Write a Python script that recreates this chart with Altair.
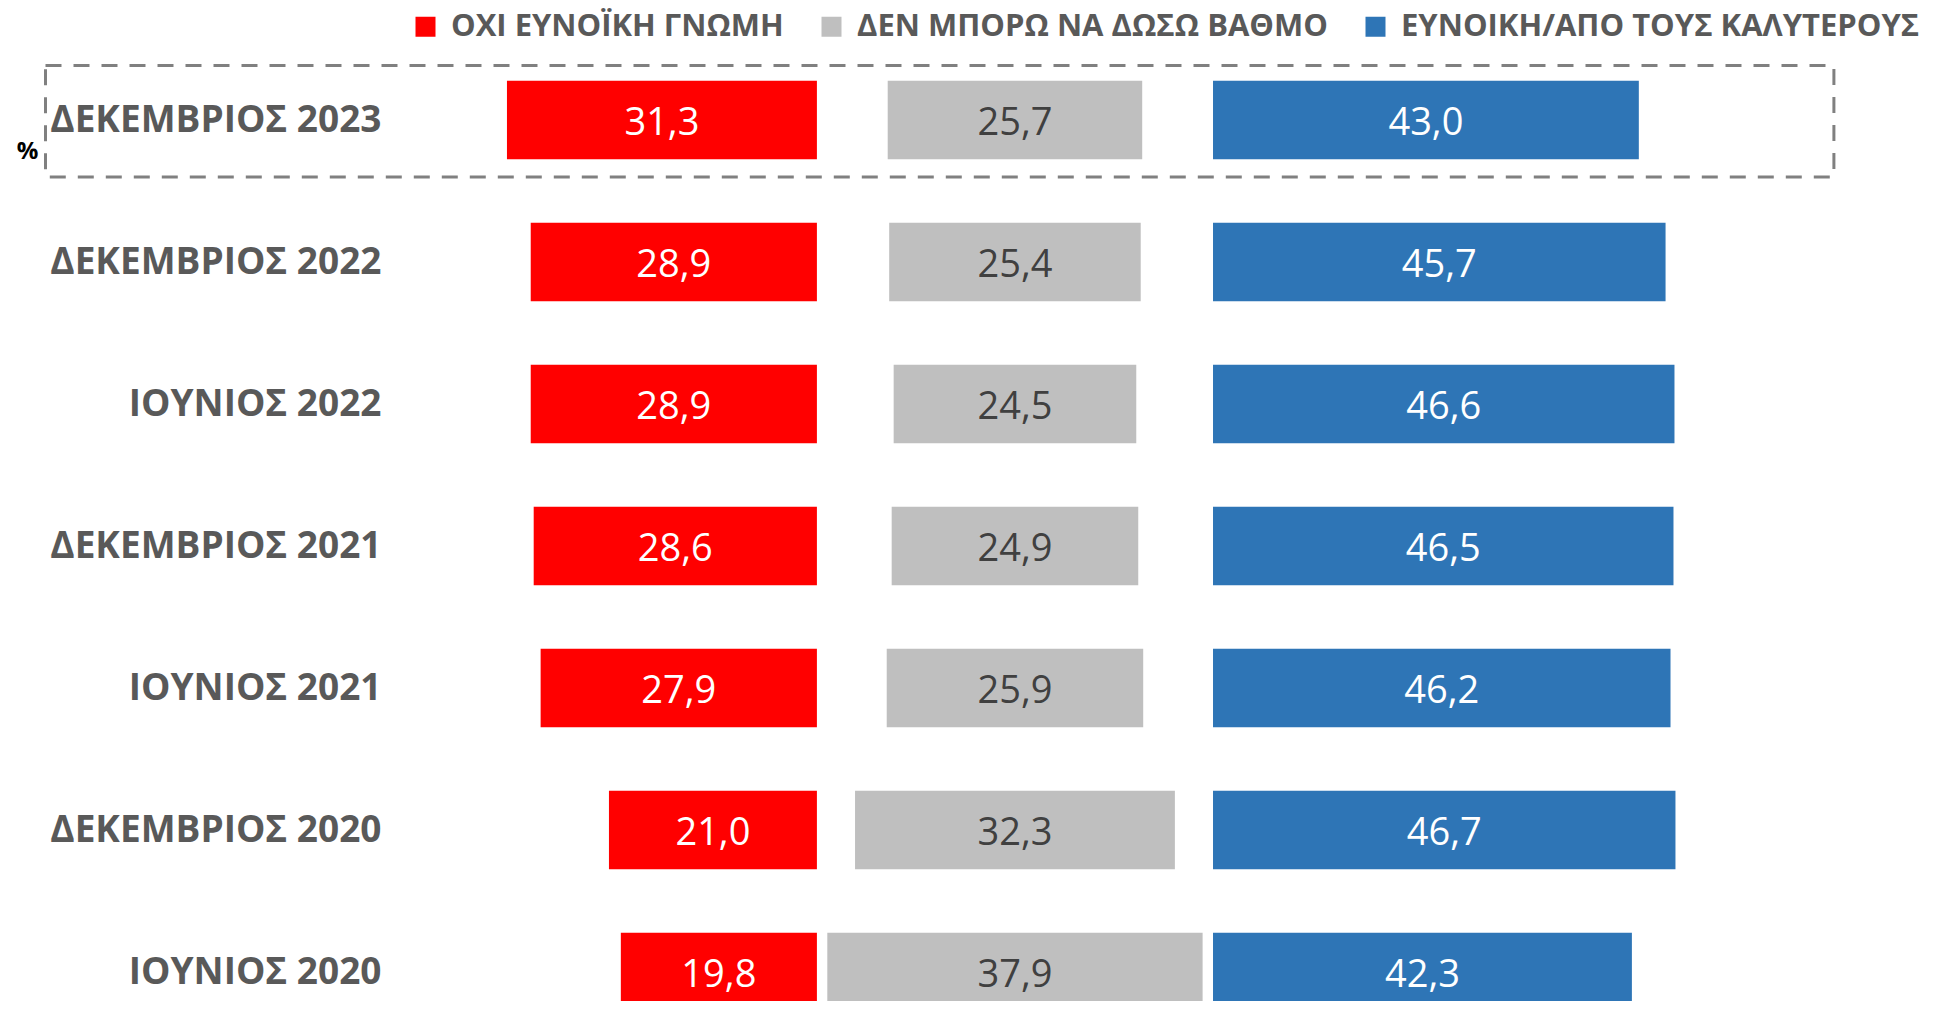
import json
import altair as alt
import pandas as pd

# ---- data ----
periods = ["ΔΕΚΕΜΒΡΙΟΣ 2023", "ΔΕΚΕΜΒΡΙΟΣ 2022", "ΙΟΥΝΙΟΣ 2022", "ΔΕΚΕΜΒΡΙΟΣ 2021",
           "ΙΟΥΝΙΟΣ 2021", "ΔΕΚΕΜΒΡΙΟΣ 2020", "ΙΟΥΝΙΟΣ 2020"]
unfavourable = [31.3, 28.9, 28.9, 28.6, 27.9, 21.0, 19.8]
cannot_rate = [25.7, 25.4, 24.5, 24.9, 25.9, 32.3, 37.9]
favourable = [43.0, 45.7, 46.6, 46.5, 46.2, 46.7, 42.3]
series = ["ΟΧΙ ΕΥΝΟΪΚΗ ΓΝΩΜΗ", "ΔΕΝ ΜΠΟΡΩ ΝΑ ΔΩΣΩ ΒΑΘΜΟ", "ΕΥΝΟΙΚΗ/ΑΠΟ ΤΟΥΣ ΚΑΛΥΤΕΡΟΥΣ"]
colors = ["#FF0000", "#BFBFBF", "#2E75B6"]
dark_label_series = "ΔΕΝ ΜΠΟΡΩ ΝΑ ΔΩΣΩ ΒΑΘΜΟ"
highlight = "ΔΕΚΕΜΒΡΙΟΣ 2023"

GAP = 20          # distance of side columns from the centre of the middle column (data units)
HALF_BAR = 0.277  # half bar thickness, in rows

rows = []
for i, p in enumerate(periods):
    r, g, b = unfavourable[i], cannot_rate[i], favourable[i]
    spans = [(-GAP - r, -GAP, r), (-g / 2, g / 2, g), (GAP, GAP + b, b)]
    for s, (x0, x1, v) in zip(series, spans):
        rows.append({"period": p, "row": i, "y0": i - HALF_BAR, "y1": i + HALF_BAR,
                     "series": s, "x0": x0, "x1": x1, "xm": (x0 + x1) / 2,
                     "label": f"{v:.1f}".replace(".", ",")})
df = pd.DataFrame(rows)

hi = periods.index(highlight)
box_df = pd.DataFrame([{"x0": -97.9, "x1": 82.7, "y0": hi - 0.384, "y1": hi + 0.401}])

xscale = alt.Scale(domain=[-62, 92], nice=False, zero=False)
yscale = alt.Scale(domain=[-0.5, 6.204], nice=False, zero=False, reverse=True)

y_axis = alt.Axis(values=list(range(len(periods))),
                  labelExpr=f"{json.dumps(periods, ensure_ascii=False)}[datum.value]",
                  title="%", titleAngle=0, titleX=-374, titleY=102,
                  titleAlign="center", titleBaseline="middle",
                  titleFont="Open Sans", titleFontSize=24, titleFontWeight="bold",
                  titleColor="#000000",
                  labelFont="Open Sans", labelFontSize=37, labelFontWeight="bold",
                  labelColor="#595959", labelPadding=20, labelLimit=600,
                  labelBaseline="middle", labelOverlap=False, labelFlush=False,
                  ticks=False, domain=False, grid=False)

bars = alt.Chart(df).mark_bar().encode(
    x=alt.X("x0:Q", scale=xscale, axis=None),
    x2="x1:Q",
    y=alt.Y("y0:Q", scale=yscale, axis=y_axis),
    y2="y1:Q",
    color=alt.Color("series:N", scale=alt.Scale(domain=series, range=colors),
                    legend=alt.Legend(title=None, orient="none", direction="horizontal",
                                      legendX=9, legendY=-38,
                                      symbolType="square", symbolSize=400,
                                      symbolStrokeWidth=0, labelFont="Open Sans",
                                      labelFontSize=31, labelFontWeight="bold",
                                      labelColor="#595959", labelOffset=10,
                                      columnPadding=32, labelLimit=800)),
)

def labels(color, keep_dark):
    test = f"datum.series {'==' if keep_dark else '!='} '{dark_label_series}'"
    return alt.Chart(df).transform_filter(test).mark_text(
        font="Open Sans", fontSize=38, baseline="middle", align="center", color=color, dy=4
    ).encode(
        x=alt.X("xm:Q", scale=xscale, axis=None),
        y=alt.Y("row:Q", scale=yscale, axis=y_axis),
        text="label:N",
    )

box = alt.Chart(box_df).mark_rect(filled=False, stroke="#808080",
                                  strokeWidth=3, strokeDash=[16, 12]).encode(
    x=alt.X("x0:Q", scale=xscale, axis=None),
    x2="x1:Q",
    y=alt.Y("y0:Q", scale=yscale, axis=y_axis),
    y2="y1:Q",
)

chart = alt.layer(box, bars, labels("#FFFFFF", False), labels("#404040", True)).properties(
    width=1525, height=952,
    autosize=alt.AutoSizeParams(type="none"),
    padding={"left": 393, "top": 41, "right": 0, "bottom": 0},
).configure_view(stroke=None)

chart.save("out.html", embed_options={"renderer": "svg", "actions": False})
